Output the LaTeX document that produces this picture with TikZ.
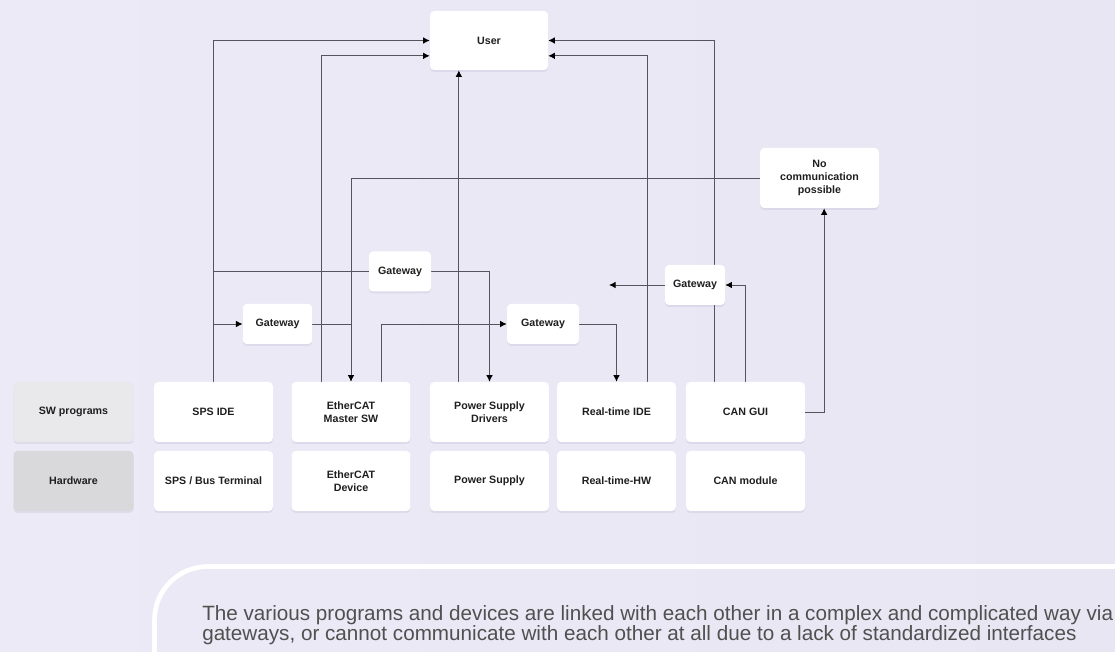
\documentclass[tikz,border=0pt]{standalone}
\usepackage{fontspec}
\setmainfont{Liberation Sans}
\usepackage{tikz}
\usetikzlibrary{arrows.meta}
\usetikzlibrary{shadows}
\usetikzlibrary{backgrounds}
\definecolor{bgleft}{HTML}{ECEAF6}
\definecolor{bgright}{HTML}{E7E6F2}
\definecolor{linecol}{HTML}{55545C}
\definecolor{swcol}{HTML}{E9E9EC}
\definecolor{hwcol}{HTML}{D9D9DC}
\definecolor{notecol}{HTML}{505050}
\definecolor{shadecol}{HTML}{8C86B0}
\tikzset{
  prog node/.style={rectangle,rounded corners=3pt,fill=white,text=black!88,
    font=\bfseries\fontsize{8}{10}\selectfont,align=center,inner sep=1pt,
    minimum width=89pt,minimum height=45pt,
    drop shadow={fill=shadecol,opacity=0.14,shadow xshift=0pt,shadow yshift=-1.5pt}},
  gate node/.style={prog node,minimum height=30pt},
  link/.style={draw=linecol,line width=0.7pt}
}

\begin{document}
\begin{tikzpicture}[x=0.75pt,y=-0.75pt,>={Latex[length=5pt,width=5pt,color=black]}]
  \useasboundingbox (0,0) rectangle (1115,652);
  % top
  \node [prog node,minimum width=88.5pt,minimum height=44.25pt] (user) at (489,40.5) {User};
  \node [prog node] (nocom) at (819.5,178) {No\\communication\\possible};
  % gateways
  \node [gate node,minimum width=46.5pt] (gw1) at (400,271.5) {Gateway};
  \node [gate node,minimum width=52pt] (gw2) at (277.5,324) {Gateway};
  \node [gate node,minimum width=54pt] (gw3) at (543,324) {Gateway};
  \node [gate node,minimum width=45pt] (gw4) at (695,285) {Gateway};
  \coordinate (gwend) at (609,285);
  % sw programs
  \node [prog node,fill=swcol,minimum width=90pt] (sw) at (73.5,412) {SW programs};
  \node [prog node] (sps) at (213.5,412) {SPS IDE};
  \node [prog node] (ecat) at (351,412) {EtherCAT\\Master SW};
  \node [prog node] (psd) at (489.5,412) {Power Supply\\Drivers};
  \node [prog node] (rt) at (616.5,412) {Real-time IDE};
  \node [prog node] (can) at (745.5,412) {CAN GUI};
  % hardware
  \node [prog node,fill=hwcol,minimum width=90pt] (hw) at (73.5,481) {Hardware};
  \node [prog node] (spsb) at (213.5,481) {SPS / Bus Terminal};
  \node [prog node] (ecatd) at (351,481) {EtherCAT\\Device};
  \node [prog node] (ps) at (489.5,481) {Power Supply};
  \node [prog node] (rthw) at (616.5,481) {Real-time-HW};
  \node [prog node] (canm) at (745.5,481) {CAN module};

  \begin{scope}[on background layer]
    \fill [left color=bgleft,right color=bgright] (0,0) rectangle (1115,652);
    % to user
    \draw [link,->] (sps.north) |- (user.west);
    \draw [link,->] ([xshift=-22.5pt]ecat.north) |- ([yshift=-11.5pt]user.west);
    \draw [link,->] ([xshift=-23pt]psd.north) -- ([xshift=-23pt]psd.north |- user.south);
    \draw [link,->] ([xshift=23.5pt]rt.north) |- ([yshift=-11.5pt]user.east);
    \draw [link,->] ([xshift=-23pt]can.north) |- (user.east);
    % gateways
    \draw [link] (sps.north |- gw1.west) -- (gw1.west);
    \draw [link,->] (gw1.east) -| (psd.north);
    \draw [link,->] (sps.north |- gw2.west) -- (gw2.west);
    \draw [link] (gw2.east) -- (gw2.east -| ecat.north);
    \draw [link,->] ([xshift=22.5pt]ecat.north) |- (gw3.west);
    \draw [link,->] (gw3.east) -| (rt.north);
    \draw [link,->] (can.north) |- (gw4.east);
    \draw [link,->] (gw4.west) -- (gwend);
    % no communication
    \draw [link,->] (can.east) -| ([xshift=3.5pt]nocom.south);
    \draw [link,->] (nocom.west) -| (ecat.north);
  \end{scope}

  % note
  \draw [white,line width=3.5pt,rounded corners=40pt] (1140,566.5) -- (154.5,566.5) -- (154.5,680);
  \node [anchor=base west,align=left,inner sep=0pt,text=notecol,
    font=\fontsize{15.5}{15}\selectfont] (note) at (202,640)
    {The various programs and devices are linked with each other in a complex and complicated way via\\
     gateways, or cannot communicate with each other at all due to a lack of standardized interfaces};
\end{tikzpicture}
\end{document}
